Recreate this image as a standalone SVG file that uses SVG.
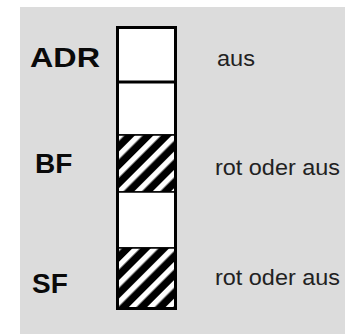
<svg xmlns="http://www.w3.org/2000/svg" width="345" height="335" viewBox="0 0 345 335">
<defs>
<pattern id="hatch" patternUnits="userSpaceOnUse" width="13" height="13" patternTransform="translate(117 135) rotate(45)">
<rect x="0" y="0" width="13" height="13" fill="#000"/>
<rect x="0" y="0" width="5.5" height="13" fill="#fff"/>
</pattern>
<style>
.lbl{font-family:"Liberation Sans",Arial,sans-serif;font-weight:bold;font-size:28px;fill:#0a0a0a}
.st{font-family:"Liberation Sans",Arial,sans-serif;font-size:22px;fill:#222}
.cell{stroke:#000;stroke-width:1.5}
</style>
</defs>
<rect x="0" y="0" width="345" height="335" fill="#fff"/>
<rect x="20" y="7" width="325" height="327" fill="#dcdcdc"/>
<g id="column">
<rect class="cell" x="117.5" y="82" width="58" height="53" fill="#fff"/>
<rect class="cell" x="117.5" y="135" width="58" height="57" fill="url(#hatch)"/>
<rect class="cell" x="117.5" y="192" width="58" height="56" fill="#fff"/>
<rect class="cell" x="117.5" y="248" width="58" height="60" fill="url(#hatch)"/>
<rect x="117.5" y="27.5" width="58" height="281" fill="none" stroke="#000" stroke-width="3"/>
<rect x="117.5" y="27.5" width="58" height="54.5" fill="#fff" stroke="#000" stroke-width="3"/>
</g>
<g id="adr">
<text class="lbl" x="30" y="67" textLength="70" lengthAdjust="spacingAndGlyphs">ADR</text>
<text class="st" x="217" y="66" textLength="38" lengthAdjust="spacingAndGlyphs">aus</text>
</g>
<g id="bf">
<text class="lbl" x="35" y="173">BF</text>
<text class="st" x="215" y="175" textLength="125" lengthAdjust="spacingAndGlyphs">rot oder aus</text>
</g>
<g id="sf">
<text class="lbl" x="32" y="293">SF</text>
<text class="st" x="215" y="285" textLength="125" lengthAdjust="spacingAndGlyphs">rot oder aus</text>
</g>
</svg>
